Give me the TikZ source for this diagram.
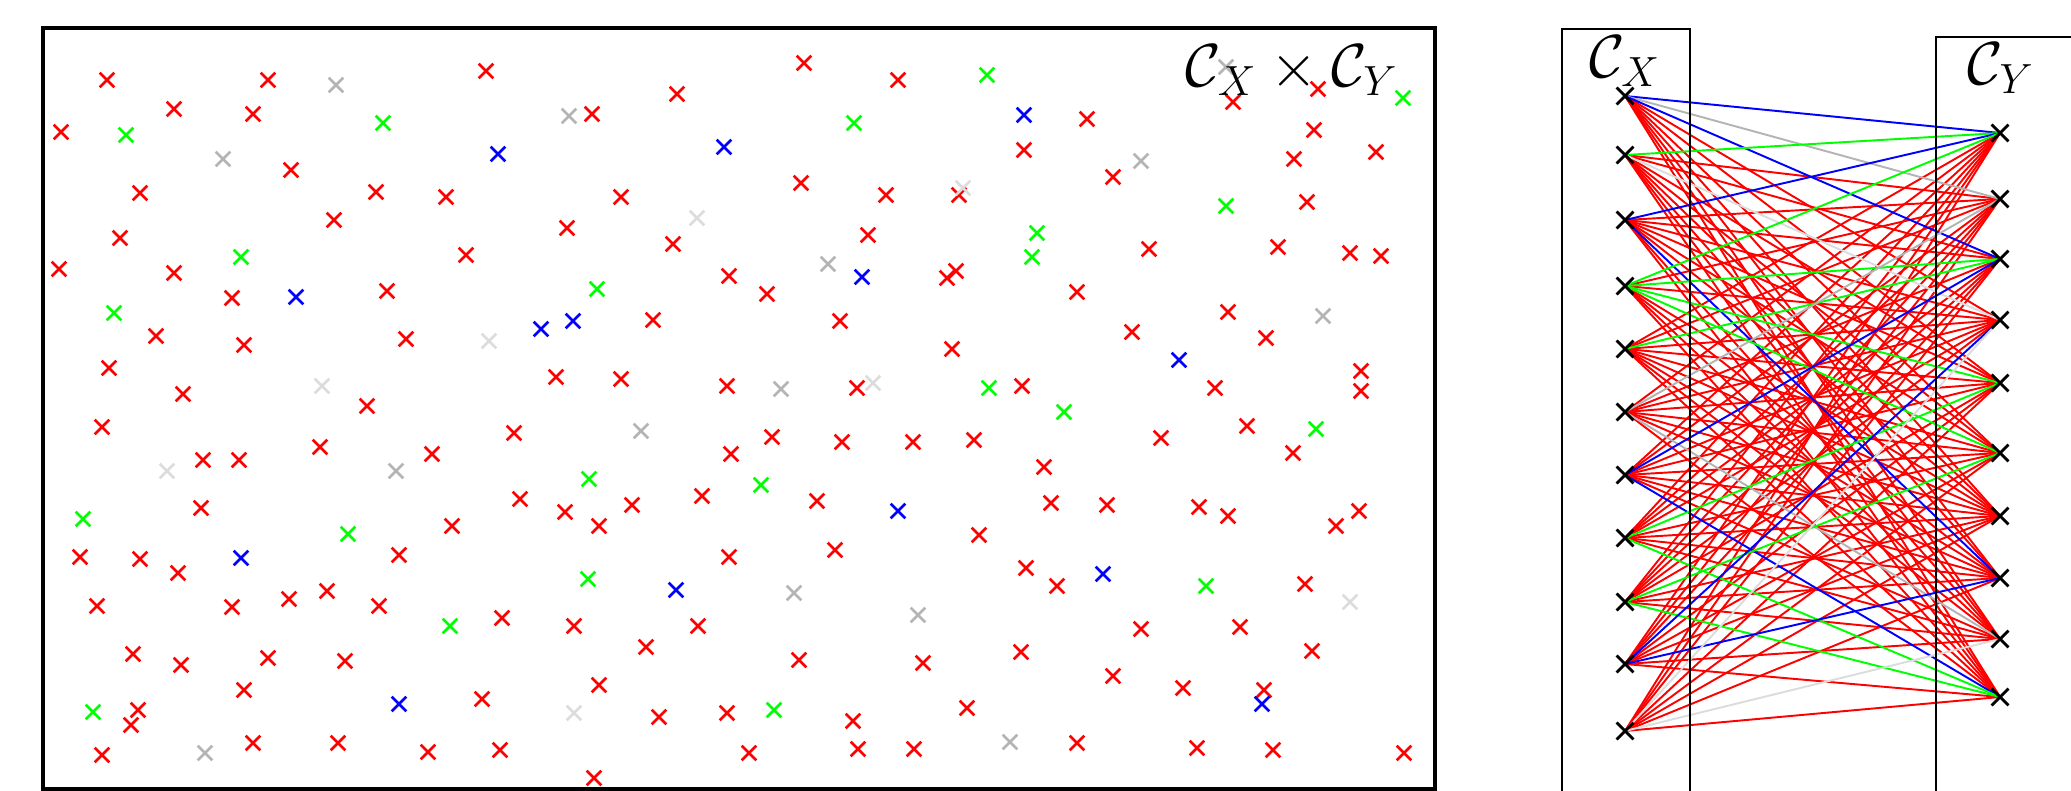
\documentclass[tikz,border=0pt]{standalone}
\usepackage{amsmath}
\usetikzlibrary{shapes.misc,backgrounds}
\definecolor{midgray}{RGB}{180,180,180}
\definecolor{palegray}{RGB}{220,220,220}
% pairs (x_i, y_j) that are not drawn red
\def\colouredges{1/1/blue, 1/2/midgray, 1/3/blue, 2/1/green, 2/4/palegray,
  3/1/blue, 3/8/blue, 4/1/green, 4/3/green, 4/5/green, 4/6/green, 5/3/green,
  6/2/midgray, 6/9/midgray, 7/3/blue, 7/10/blue, 8/5/green, 8/10/green,
  9/6/green, 9/10/green, 10/4/blue, 10/8/blue, 11/4/palegray, 11/9/palegray}

\begin{document}
\begin{tikzpicture}[x=0.1mm, y=-0.1mm,
    pt/.style={cross out, draw, minimum size=1.2mm, inner sep=0pt,
               line width=0.75pt},
    vtx/.style={cross out, draw=black, minimum size=1.4mm, inner sep=0pt,
                line width=0.8pt},
    frame/.style={draw=black, line width=0.55pt},
    edge/.style={line width=0.55pt},
    lbl/.style={font=\LARGE, inner sep=0pt}
  ]
  \useasboundingbox (0,0) rectangle (2071,791);
  \clip (0,0) rectangle (2071,791);

  % Product set
  \draw[line width=1.15pt] (43,28) rectangle (1435,789);
  \foreach \x/\y [count=\k] in {107/80, 268/80, 486/71, 174/109, 253/114,
      61/132, 291/170, 140/193, 376/192, 446/197, 334/220, 120/238, 466/255,
      59/269, 174/273, 232/298, 387/291, 156/336, 244/345, 406/339, 109/368,
      183/394, 804/63, 898/80, 677/94, 592/114, 801/183, 886/195, 959/195,
      621/197, 567/228, 673/244, 868/235, 947/278, 956/271, 729/276, 767/294,
      653/320, 840/321, 952/349, 556/377, 621/379, 727/386, 857/388,
      1233/102, 1318/89, 1087/119, 1024/150, 1113/177, 1314/130, 1294/159,
      1376/152, 1307/202, 1149/249, 1278/247, 1350/253, 1381/256, 1077/292,
      1228/312, 1132/332, 1266/338, 1361/371, 1022/386, 1215/388, 1361/391,
      367/406, 102/427, 514/433, 320/447, 432/454, 203/460, 239/460, 520/499,
      201/508, 452/526, 80/557, 140/559, 178/573, 399/555, 97/606, 232/607,
      289/599, 327/591, 379/606, 502/618, 133/654, 181/665, 268/658, 345/661,
      244/690, 482/699, 138/710, 131/725, 102/755, 253/743, 338/743, 428/752,
      500/750, 772/437, 731/454, 842/442, 913/442, 974/440, 565/512, 599/526,
      632/505, 702/496, 817/501, 979/535, 835/550, 729/557, 574/626, 698/626,
      646/647, 799/660, 923/663, 1021/652, 599/685, 659/717, 727/713, 853/721,
      967/708, 749/753, 858/749, 914/749, 594/778, 1161/438, 1247/426,
      1293/453, 1044/467, 1051/503, 1107/505, 1199/507, 1228/516, 1359/511,
      1336/526, 1026/568, 1057/586, 1305/584, 1141/629, 1240/627, 1312/651,
      1113/676, 1183/688, 1264/690, 1077/743, 1197/748, 1273/750, 1404/753}
    \node[pt, red] (r\k) at (\x,\y) {};
  \foreach \x/\y [count=\k] in {383/123, 126/135, 241/257, 114/313, 987/75,
      854/123, 597/289, 1403/98, 1226/206, 1037/233, 1032/257, 83/519,
      348/534, 450/626, 93/712, 589/479, 761/485, 588/579, 774/710, 1064/412,
      1316/429, 1206/586, 989/388}
    \node[pt, green] (g\k) at (\x,\y) {};
  \foreach \x/\y [count=\k] in {498/154, 296/297, 724/147, 541/329, 573/321,
      862/277, 1024/115, 1179/360, 241/558, 399/704, 898/511, 676/590,
      1103/574, 1262/704}
    \node[pt, blue] (b\k) at (\x,\y) {};
  \foreach \x/\y [count=\k] in {336/85, 223/159, 569/116, 828/264, 781/389,
      1226/67, 1141/161, 1323/316, 396/471, 205/753, 641/431, 794/593,
      918/615, 1010/742}
    \node[pt, midgray] (m\k) at (\x,\y) {};
  \foreach \x/\y [count=\k] in {489/341, 322/386, 963/188, 697/218, 873/383,
      167/471, 574/713, 1350/602}
    \node[pt, palegray] (p\k) at (\x,\y) {};
  \node[lbl] (prod) at (1292,70) {$\mathcal{C}_X \times \mathcal{C}_Y$};

  % The two sets
  \draw[frame] (1562,29) rectangle (1690,830);
  \draw[frame] (1936,37) rectangle (2120,830);
  \node[lbl] (cx) at (1625,61) {$\mathcal{C}_X$};
  \node[lbl] (cy) at (2001,68) {$\mathcal{C}_Y$};
  \foreach \yy [count=\i] in {96,155,220,286,349,412,475,538,602,664,731}
    \node[vtx] (x\i) at (1625,\yy) {};
  \foreach \yy [count=\j] in {133,199,259,320,383,453,516,578,639,697}
    \node[vtx] (y\j) at (2000,\yy) {};

  % Edges, behind the marks
  \foreach \a/\b/\c in \colouredges
    {\expandafter\xdef\csname ec\a-\b\endcsname{\c}}
  \begin{pgfonlayer}{background}
    \foreach \i in {1,...,11}{
      \foreach \j in {1,...,10}{
        \ifcsname ec\i-\j\endcsname\else
          \draw[edge, red] (x\i.center) -- (y\j.center);
        \fi
      }
    }
    \foreach \a/\b/\c in \colouredges
      {\draw[edge, draw=\c] (x\a.center) -- (y\b.center);}
  \end{pgfonlayer}
\end{tikzpicture}
\end{document}
